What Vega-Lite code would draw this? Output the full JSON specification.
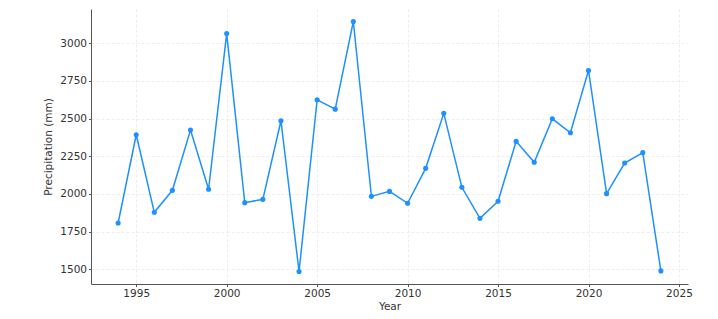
{
  "$schema": "https://vega.github.io/schema/vega-lite/v6.json",
  "width": 597,
  "height": 275,
  "autosize": {"type": "none"},
  "padding": {"left": 91, "top": 9, "right": 30, "bottom": 35},
  "background": "white",
  "config": {
    "view": {"stroke": null},
    "font": "DejaVu Sans",
    "axis": {
      "labelFont": "DejaVu Sans",
      "titleFont": "DejaVu Sans",
      "labelFontSize": 10.5,
      "titleFontSize": 10.5,
      "titleFontWeight": "normal",
      "labelColor": "#333333",
      "titleColor": "#333333",
      "domainColor": "#555555",
      "tickColor": "#555555",
      "tickSize": 2.5,
      "gridColor": "#e6e6e6",
      "gridDash": [3, 2],
      "gridWidth": 0.7
    }
  },
  "data": {
    "values": [
      {"Year": 1994, "Precipitation": 1807},
      {"Year": 1995, "Precipitation": 2393},
      {"Year": 1996, "Precipitation": 1878},
      {"Year": 1997, "Precipitation": 2024},
      {"Year": 1998, "Precipitation": 2424},
      {"Year": 1999, "Precipitation": 2031},
      {"Year": 2000, "Precipitation": 3065},
      {"Year": 2001, "Precipitation": 1942},
      {"Year": 2002, "Precipitation": 1964},
      {"Year": 2003, "Precipitation": 2486},
      {"Year": 2004, "Precipitation": 1485},
      {"Year": 2005, "Precipitation": 2625},
      {"Year": 2006, "Precipitation": 2563},
      {"Year": 2007, "Precipitation": 3145},
      {"Year": 2008, "Precipitation": 1984},
      {"Year": 2009, "Precipitation": 2017},
      {"Year": 2010, "Precipitation": 1938},
      {"Year": 2011, "Precipitation": 2170},
      {"Year": 2012, "Precipitation": 2535},
      {"Year": 2013, "Precipitation": 2044},
      {"Year": 2014, "Precipitation": 1838},
      {"Year": 2015, "Precipitation": 1951},
      {"Year": 2016, "Precipitation": 2349},
      {"Year": 2017, "Precipitation": 2210},
      {"Year": 2018, "Precipitation": 2499},
      {"Year": 2019, "Precipitation": 2406},
      {"Year": 2020, "Precipitation": 2820},
      {"Year": 2021, "Precipitation": 2002},
      {"Year": 2022, "Precipitation": 2205},
      {"Year": 2023, "Precipitation": 2274},
      {"Year": 2024, "Precipitation": 1489}
    ]
  },
  "encoding": {
    "x": {
      "field": "Year",
      "type": "quantitative",
      "scale": {"domain": [1992.5, 2025.5], "nice": false, "zero": false},
      "axis": {"values": [1995, 2000, 2005, 2010, 2015, 2020, 2025], "format": "d", "title": "Year", "labelPadding": 2, "titlePadding": 2}
    },
    "y": {
      "field": "Precipitation",
      "type": "quantitative",
      "scale": {"domain": [1402, 3228], "nice": false, "zero": false},
      "axis": {"values": [1500, 1750, 2000, 2250, 2500, 2750, 3000], "format": "d", "title": "Precipitation (mm)", "labelPadding": 2, "titlePadding": 6}
    }
  },
  "layer": [
    {"mark": {"type": "line", "color": "#1E90FF", "strokeWidth": 1.5}},
    {"mark": {"type": "point", "filled": true, "color": "#1E90FF", "size": 26, "opacity": 1}}
  ]
}
